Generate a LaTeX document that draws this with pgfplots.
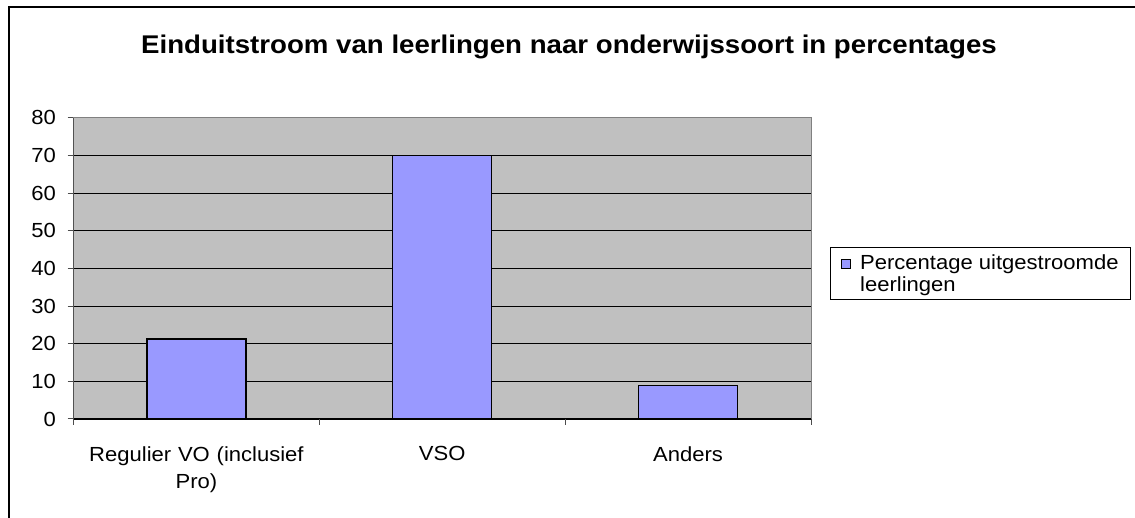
\documentclass[border=0pt]{standalone}
\usepackage{fontspec}
\setmainfont{Liberation Sans}[FakeStretch=1.08]
\usepackage{pgfplots}
\pgfplotsset{compat=1.18}
\definecolor{barcol}{HTML}{9999FF}
\definecolor{plotbg}{HTML}{C0C0C0}
\newcommand{\lbl}{\fontsize{20.4bp}{27bp}\selectfont}
\begin{document}
\begin{tikzpicture}[x=1bp,y=1bp]
\path[use as bounding box] (0,0) rectangle (1135,518);
\fill[white] (0,0) rectangle (1135,518);
\draw[line width=2.5bp] (9,-2) -- (9,511) -- (1137,511);
\node[anchor=base, font=\fontsize{25.6bp}{30bp}\selectfont\bfseries] at (569,464) {Einduitstroom van leerlingen naar onderwijssoort in percentages};
\begin{axis}[
  at={(73.5bp,99bp)}, anchor=south west,
  scale only axis, width=737.5bp, height=301.3bp,
  xmin=0, xmax=3, ymin=0, ymax=80,
  ytick={0,10,...,80},
  minor ytick={0,10,...,80},
  xtick={0.5,1.5,2.5},
  xticklabels={{Regulier VO (inclusief\\Pro)},VSO,Anders},
  minor xtick={0,1,2,3},
  major tick length=0pt,
  minor tick length=6bp,
  tick align=outside,
  tick pos=left,
  every tick/.style={black, line width=0.8bp},
  minor tick style={black!70, line width=1bp},
  x tick label style={align=center, text width=260bp, font=\lbl, yshift=-24bp},
  y tick label style={font=\lbl, xshift=-14bp},
  /pgf/number format/assume math mode=true,
  ymajorgrids,
  major grid style={black, line width=0.8bp},
  axis line style={draw=black!50, line width=1bp},
  axis background/.style={fill=plotbg},
  legend style={at={(1.0258,0.5709)}, anchor=north west, draw=black, line width=1bp,
    font=\fontsize{20.4bp}{22bp}\selectfont, cells={align=left}, inner xsep=10bp, inner ysep=5bp},
  legend image code/.code={\draw[#1, line width=1.2bp] (0bp,5bp) rectangle (9bp,14bp); \path[draw=none, fill=none] (0bp,5bp) -- (17bp,5bp);},
]
\addplot[ybar, bar width=99bp, fill=barcol, draw=black, line width=1.3bp]
  coordinates {(0.5,21.2) (1.5,70) (2.5,8.9)};
\addlegendentry{Percentage uitgestroomde\\leerlingen}
\draw[black, line width=1bp] (rel axis cs:0,0) -- (rel axis cs:0,1);
\draw[black, line width=1bp] (rel axis cs:0,0) -- (rel axis cs:1,0);
\end{axis}
\end{tikzpicture}
\end{document}
